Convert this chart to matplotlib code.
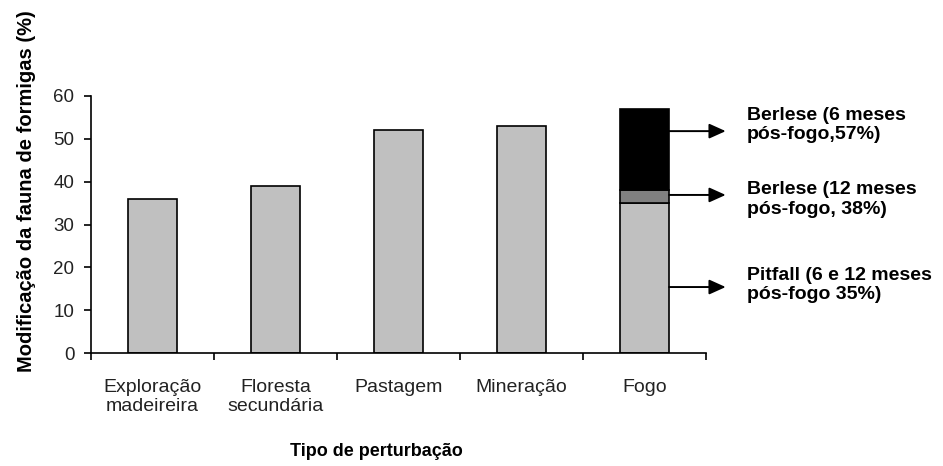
import matplotlib.pyplot as plt
import numpy as np

plt.rcParams["font.family"] = ["Liberation Sans", "DejaVu Sans"]

CATEGORIES = ["Exploração\nmadeireira", "Floresta\nsecundária", "Pastagem", "Mineração", "Fogo"]
BASE_VALUES = [36, 39, 52, 53, 35]          # light gray part
FOGO_BERLESE_12 = 38                        # top of mid-gray segment
FOGO_BERLESE_6 = 57                         # top of black segment

NOTE_TEXTS = [
    "Berlese (6 meses\npós-fogo,57%)",
    "Berlese (12 meses\npós-fogo, 38%)",
    "Pitfall (6 e 12 meses\npós-fogo 35%)",
]
NOTE_ARROW_Y = [51.8, 36.9, 15.4]
NOTE_TEXT_Y = [53.2, 35.8, 15.9]

fig = plt.figure(figsize=(9.43, 4.66), dpi=100)
ax = fig.add_axes([91 / 943, 113 / 466, 615 / 943, 257 / 466])

x = np.arange(len(CATEGORIES))
w = 0.4
ax.bar(x, BASE_VALUES, width=w, color="#c0c0c0", edgecolor="black", linewidth=1.2, zorder=2)
fogo = len(CATEGORIES) - 1
ax.bar(fogo, FOGO_BERLESE_12 - BASE_VALUES[fogo], bottom=BASE_VALUES[fogo], width=w,
       color="#808080", edgecolor="black", linewidth=1.2, zorder=2)
ax.bar(fogo, FOGO_BERLESE_6 - FOGO_BERLESE_12, bottom=FOGO_BERLESE_12, width=w,
       color="black", edgecolor="black", linewidth=1.2, zorder=2)

ax.set_xlim(-0.5, len(CATEGORIES) - 0.5)
ax.set_ylim(0, 60)
ax.set_yticks(range(0, 61, 10))
ax.set_xticks(x)
ax.set_xticklabels(CATEGORIES, fontsize=14, color="#222222", linespacing=1.15)
ax.set_xticks(np.arange(-0.5, len(CATEGORIES)), minor=True)
ax.tick_params(axis="x", which="major", length=0, pad=19)
ax.tick_params(axis="x", which="minor", length=5, width=1.2, direction="out")
ax.tick_params(axis="y", length=5, width=1.2, labelsize=13.5, labelcolor="#222222", pad=7)

for s in ["top", "right"]:
    ax.spines[s].set_visible(False)
for s in ["left", "bottom"]:
    ax.spines[s].set_linewidth(1.2)

x_bar_right = fogo + w / 2
for txt, ay, ty in zip(NOTE_TEXTS, NOTE_ARROW_Y, NOTE_TEXT_Y):
    ax.annotate("", xy=(4.66, ay), xytext=(x_bar_right, ay),
                arrowprops=dict(arrowstyle="-|>,head_length=1.0,head_width=0.45",
                                color="black", lw=1.4, shrinkA=0, shrinkB=0),
                annotation_clip=False)
    ax.text(4.83, ty, txt, fontsize=14, fontweight="bold", va="center", ha="left",
            linespacing=1.2, clip_on=False)

fig.text(27 / 943, (466 - 191) / 466, "Modificação da fauna de formigas (%)",
         rotation=90, fontsize=14.5, fontweight="bold", ha="center", va="center")
fig.text(376 / 943, (466 - 452) / 466, "Tipo de perturbação", fontsize=13,
         fontweight="bold", ha="center", va="center")

fig.savefig("out.png", dpi=100)
